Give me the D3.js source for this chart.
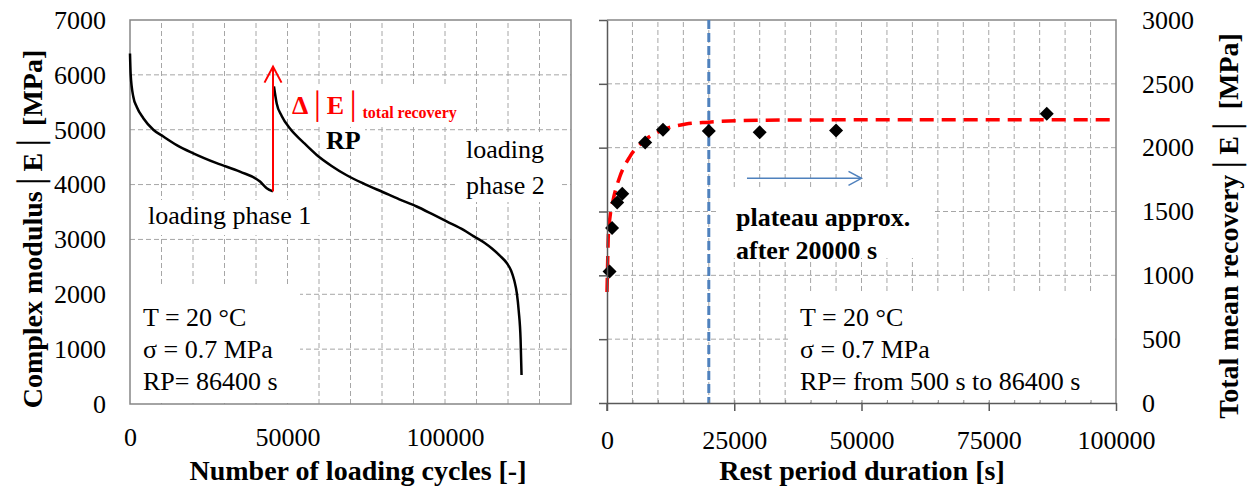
<!DOCTYPE html>
<html>
<head>
<meta charset="utf-8">
<script src="https://cdn.jsdelivr.net/npm/d3@7"></script>
<style>
  body { margin: 0; background: #fff; }
  text { font-family: "Liberation Serif", "Times New Roman", serif; fill: #000; }
</style>
</head>
<body>
<svg id="chart" width="1249" height="489"></svg>
<script>
// left panel: complex modulus vs loading cycles
var phase1Cycles = [0, 220, 1050, 2120, 4230, 7400, 10580, 14820, 20100, 27520, 34900, 41270, 43400, 45400];
var phase1Modulus = [6390, 6000, 5600, 5420, 5210, 5000, 4875, 4720, 4570, 4390, 4235, 4055, 3935, 3875];
var phase2Cycles = [45700, 46570, 48160, 50790, 55020, 59270, 64000, 68800, 74500, 80400, 85500, 91000, 96000, 100500, 106000, 109000, 112500, 115000, 117500, 119600, 121000, 122000, 122800, 123400, 124000, 124300];
var phase2Modulus = [5790, 5480, 5250, 5020, 4770, 4540, 4340, 4170, 4010, 3860, 3730, 3600, 3460, 3330, 3170, 3060, 2940, 2830, 2700, 2570, 2430, 2250, 2020, 1700, 1170, 530];
var leftXTicks = [0, 50000, 100000];
var leftYTicks = [0, 1000, 2000, 3000, 4000, 5000, 6000, 7000];
var recoveryJump = [3875, 6150]; // red arrow, at end of phase 1

// right panel: recovery vs rest period
var restPeriod = [500, 1000, 2000, 3000, 7500, 11000, 20000, 30000, 45000, 86400];
var recovery = [1030, 1370, 1570, 1640, 2040, 2140, 2130, 2120, 2135, 2265];
var fitTime = [0, 100, 250, 600, 1200, 2500, 4500, 7500, 11000, 15500, 20000, 30000, 50000, 100000];
var fitValue = [870, 1050, 1300, 1460, 1590, 1770, 1930, 2060, 2140, 2185, 2200, 2215, 2218, 2218];
var rightXTicks = [0, 25000, 50000, 75000, 100000];
var rightYTicks = [0, 500, 1000, 1500, 2000, 2500, 3000];
var plateauLine = 20000;

var svg = d3.select("#chart");
var gridColor = "#a6a6a6";

// ---------- left panel ----------
var xL = d3.scaleLinear().domain([0, 140000]).range([130, 571]);
var yL = d3.scaleLinear().domain([0, 7000]).range([404, 20]);

var gl = svg.append("g");
gl.selectAll("line.hg").data(d3.range(1000, 7000, 1000)).enter().append("line")
  .attr("x1", xL(0)).attr("x2", xL(140000))
  .attr("y1", d => yL(d)).attr("y2", d => yL(d))
  .attr("stroke", gridColor).attr("stroke-dasharray", "5,3");
gl.selectAll("line.vg").data(d3.range(10000, 140000, 10000)).enter().append("line")
  .attr("x1", d => xL(d)).attr("x2", d => xL(d))
  .attr("y1", yL(0)).attr("y2", yL(7000))
  .attr("stroke", gridColor).attr("stroke-dasharray", "5,3");

// white text boxes hide the grid (as in the source chart)
var boxesL = [[130, 285, 170, 118], [140, 200, 180, 35], [290, 86, 170, 38], [320, 128, 45, 24], [455, 135, 107, 67]];
gl.selectAll("rect.box").data(boxesL).enter().append("rect")
  .attr("x", d => d[0]).attr("y", d => d[1]).attr("width", d => d[2]).attr("height", d => d[3])
  .attr("fill", "#fff");

gl.append("rect").attr("x", xL(0)).attr("y", yL(7000))
  .attr("width", xL(140000) - xL(0)).attr("height", yL(0) - yL(7000))
  .attr("fill", "none").attr("stroke", "#868686").attr("stroke-width", 1.5);

var lineL = d3.line().x(d => xL(d[0])).y(d => yL(d[1])).curve(d3.curveMonotoneX);
gl.append("path").datum(d3.zip(phase1Cycles, phase1Modulus)).attr("d", lineL)
  .attr("fill", "none").attr("stroke", "#000").attr("stroke-width", 2.5);
gl.append("path").datum(d3.zip(phase2Cycles, phase2Modulus)).attr("d", lineL)
  .attr("fill", "none").attr("stroke", "#000").attr("stroke-width", 2.5);

// red arrow
var ax = xL(phase1Cycles[phase1Cycles.length - 1]);
gl.append("line").attr("x1", ax).attr("x2", ax)
  .attr("y1", yL(recoveryJump[0])).attr("y2", yL(recoveryJump[1]))
  .attr("stroke", "#ff0000").attr("stroke-width", 2);
gl.append("path")
  .attr("d", "M" + (ax - 8.5) + "," + (yL(recoveryJump[1]) + 16) + "L" + ax + "," + yL(recoveryJump[1]) + "L" + (ax + 8.5) + "," + (yL(recoveryJump[1]) + 16))
  .attr("fill", "none").attr("stroke", "#ff0000").attr("stroke-width", 2);

gl.append("g").attr("transform", "translate(0," + yL(0) + ")")
  .call(d3.axisBottom(xL).tickValues(leftXTicks).tickSize(0).tickPadding(24).tickFormat(d3.format("d")))
  .call(g => g.select(".domain").remove())
  .selectAll("text").attr("font-size", 26).attr("font-family", "Liberation Serif");
gl.append("g").attr("transform", "translate(" + xL(0) + ",0)")
  .call(d3.axisLeft(yL).tickValues(leftYTicks).tickSize(0).tickPadding(24).tickFormat(d3.format("d")))
  .call(g => g.select(".domain").remove())
  .selectAll("text").attr("font-size", 26).attr("font-family", "Liberation Serif");

// left annotations
var tL = gl.append("g").attr("font-size", 26);
tL.append("text").attr("x", 143).attr("y", 326).text("T = 20 °C");
tL.append("text").attr("x", 143).attr("y", 358).text("σ = 0.7 MPa");
tL.append("text").attr("x", 143).attr("y", 390).text("RP= 86400 s");
tL.append("text").attr("x", 148).attr("y", 224).text("loading phase 1");
tL.append("text").attr("x", 466).attr("y", 158).text("loading");
tL.append("text").attr("x", 466).attr("y", 194).text("phase 2");
var dE = tL.append("text").attr("x", 292).attr("y", 114).attr("font-weight", "bold").style("fill", "#ff0000");
dE.append("tspan").attr("font-size", 26).style("fill", "#ff0000").text("Δ│E│");
dE.append("tspan").attr("font-size", 16).attr("dy", 4).style("fill", "#ff0000").text("total recovery");
tL.append("text").attr("x", 326).attr("y", 149).attr("font-weight", "bold").text("RP");

svg.append("text").attr("transform", "translate(42,229) rotate(-90)")
  .attr("text-anchor", "middle").attr("font-size", 28).attr("font-weight", "bold")
  .text("Complex modulus│E│ [MPa]");
svg.append("text").attr("x", 358).attr("y", 480)
  .attr("text-anchor", "middle").attr("font-size", 28).attr("font-weight", "bold")
  .text("Number of loading cycles [-]");

// ---------- right panel ----------
var xR = d3.scaleLinear().domain([0, 100000]).range([607, 1116]);
var yR = d3.scaleLinear().domain([0, 3000]).range([403, 20]);

var gr = svg.append("g");
gr.selectAll("line.hg").data(d3.range(500, 3000, 500)).enter().append("line")
  .attr("x1", xR(0)).attr("x2", xR(100000))
  .attr("y1", d => yR(d)).attr("y2", d => yR(d))
  .attr("stroke", gridColor).attr("stroke-dasharray", "5,3");
gr.selectAll("line.vg").data(d3.range(5000, 100000, 5000)).enter().append("line")
  .attr("x1", d => xR(d)).attr("x2", d => xR(d))
  .attr("y1", yR(0)).attr("y2", yR(3000))
  .attr("stroke", gridColor).attr("stroke-dasharray", "5,3");

var boxesR = [[718, 188, 217, 70], [790, 292, 325, 110]];
gr.selectAll("rect.box").data(boxesR).enter().append("rect")
  .attr("x", d => d[0]).attr("y", d => d[1]).attr("width", d => d[2]).attr("height", d => d[3])
  .attr("fill", "#fff");

// top and right frame
gr.append("path")
  .attr("d", "M" + xR(0) + "," + yR(3000) + "H" + xR(100000) + "V" + yR(0))
  .attr("fill", "none").attr("stroke", "#868686").attr("stroke-width", 1.5);

// plateau marker
gr.append("line").attr("x1", xR(plateauLine)).attr("x2", xR(plateauLine))
  .attr("y1", yR(3000)).attr("y2", yR(0))
  .attr("stroke", "#4f81bd").attr("stroke-width", 3).attr("stroke-dasharray", "9,4");

var lineR = d3.line().x(d => xR(d[0])).y(d => yR(d[1])).curve(d3.curveMonotoneX);
gr.append("path").datum(d3.zip(fitTime, fitValue)).attr("d", lineR)
  .attr("fill", "none").attr("stroke", "#ff0000").attr("stroke-width", 3.5).attr("stroke-dasharray", "14,8");

gr.selectAll("path.pt").data(d3.zip(restPeriod, recovery)).enter().append("path")
  .attr("d", d => {
    var cx = xR(d[0]), cy = yR(d[1]), r = 7;
    return "M" + cx + "," + (cy - r) + "L" + (cx + r) + "," + cy + "L" + cx + "," + (cy + r) + "L" + (cx - r) + "," + cy + "Z";
  })
  .attr("fill", "#000");

// blue arrow
var ay = yR(1760);
gr.append("line").attr("x1", xR(27500)).attr("x2", xR(50000)).attr("y1", ay).attr("y2", ay)
  .attr("stroke", "#4f81bd").attr("stroke-width", 1.5);
gr.append("path")
  .attr("d", "M" + (xR(50000) - 13) + "," + (ay - 7) + "L" + xR(50000) + "," + ay + "L" + (xR(50000) - 13) + "," + (ay + 7))
  .attr("fill", "none").attr("stroke", "#4f81bd").attr("stroke-width", 1.5);

// axes
gr.append("g").attr("transform", "translate(0," + yR(0) + ")")
  .call(d3.axisBottom(xR).tickValues(d3.range(5000, 100000, 5000)).tickSize(-3).tickFormat(""))
  .call(g => g.select(".domain").remove())
  .selectAll("line").attr("stroke", "#868686");
var axB = gr.append("g").attr("transform", "translate(0," + yR(0) + ")")
  .call(d3.axisBottom(xR).tickValues(rightXTicks).tickSizeInner(8).tickSizeOuter(0).tickPadding(20).tickFormat(d3.format("d")));
axB.selectAll("text").attr("font-size", 26).attr("font-family", "Liberation Serif");
axB.selectAll("line, path").attr("stroke", "#595959").attr("stroke-width", 1.5);

var axL = gr.append("g").attr("transform", "translate(" + xR(0) + ",0)")
  .call(d3.axisLeft(yR).tickValues(rightYTicks).tickSizeInner(8).tickSizeOuter(0).tickFormat(""));
axL.selectAll("line, path").attr("stroke", "#595959").attr("stroke-width", 1.5);
gr.append("line").attr("x1", xR(0)).attr("x2", xR(0)).attr("y1", yR(0)).attr("y2", yR(0) + 8)
  .attr("stroke", "#595959").attr("stroke-width", 1.5);

gr.append("g").attr("transform", "translate(" + xR(100000) + ",0)")
  .call(d3.axisRight(yR).tickValues(rightYTicks).tickSize(0).tickPadding(26).tickFormat(d3.format("d")))
  .call(g => g.select(".domain").remove())
  .selectAll("text").attr("font-size", 26).attr("font-family", "Liberation Serif");

// right annotations
var tR = gr.append("g").attr("font-size", 26);
tR.append("text").attr("x", 736).attr("y", 226).attr("font-weight", "bold").text("plateau approx.");
tR.append("text").attr("x", 736).attr("y", 259).attr("font-weight", "bold").text("after 20000 s");
tR.append("text").attr("x", 800).attr("y", 326).text("T = 20 °C");
tR.append("text").attr("x", 800).attr("y", 358).text("σ = 0.7 MPa");
tR.append("text").attr("x", 800).attr("y", 390).text("RP= from 500 s to 86400 s");

svg.append("text").attr("transform", "translate(1238,226) rotate(-90)")
  .attr("text-anchor", "middle").attr("font-size", 28).attr("font-weight", "bold")
  .text("Total mean recovery│E│ [MPa]");
svg.append("text").attr("x", 862).attr("y", 480)
  .attr("text-anchor", "middle").attr("font-size", 28).attr("font-weight", "bold")
  .text("Rest period duration [s]");
</script>
</body>
</html>
